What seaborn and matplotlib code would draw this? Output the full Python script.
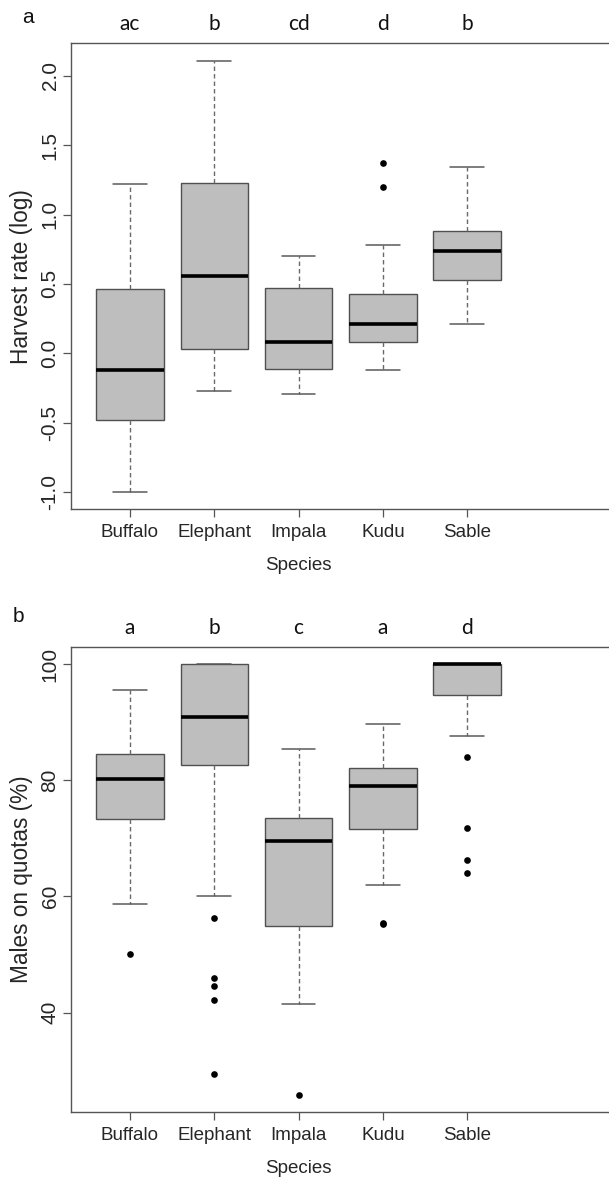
import numpy as np
import pandas as pd
import matplotlib
matplotlib.use("Agg")
import matplotlib.pyplot as plt
from matplotlib.ticker import FixedLocator, FormatStrFormatter
import seaborn as sns

sns.set_style("white")
plt.rcParams['font.family'] = ['Liberation Sans', 'DejaVu Sans']

species = ["Buffalo", "Elephant", "Impala", "Kudu", "Sable"]

# Panel a: harvest rate (log) five-number summaries
harvest_lo = [-1.00, -0.27, -0.29, -0.12, 0.21]
harvest_q1 = [-0.48, 0.03, -0.11, 0.08, 0.53]
harvest_med = [-0.12, 0.56, 0.08, 0.21, 0.74]
harvest_q3 = [0.46, 1.23, 0.47, 0.43, 0.88]
harvest_hi = [1.22, 2.11, 0.70, 0.78, 1.34]
harvest_out_species = ["Kudu", "Kudu"]
harvest_out_values = [1.37, 1.20]
harvest_letters = ["ac", "b", "cd", "d", "b"]
harvest_ticks = [-1.0, -0.5, 0.0, 0.5, 1.0, 1.5, 2.0]

# Panel b: males on quotas (%)
males_lo = [58.6, 60.1, 41.5, 61.9, 87.6]
males_q1 = [73.3, 82.6, 54.9, 71.6, 94.7]
males_med = [80.2, 90.9, 69.5, 79.0, 100.0]
males_q3 = [84.5, 100.0, 73.4, 82.1, 100.0]
males_hi = [95.5, 100.0, 85.4, 89.6, 100.0]
males_out_species = ["Buffalo", "Elephant", "Elephant", "Elephant", "Elephant", "Elephant",
                     "Impala", "Kudu", "Kudu", "Sable", "Sable", "Sable", "Sable"]
males_out_values = [50.0, 56.2, 45.9, 44.5, 42.2, 29.5,
                    25.8, 55.2, 55.4, 83.9, 71.8, 66.3, 64.1]
males_letters = ["a", "b", "c", "a", "d"]
males_ticks = [40, 60, 80, 100]


def summary_frame(lo, q1, med, q3, hi):
    rows = []
    for sp, a, b, c, d, e in zip(species, lo, q1, med, q3, hi):
        for v in (a, b, c, d, e):
            rows.append({"Species": sp, "value": v})
    return pd.DataFrame(rows)


W, H = 609, 1179
fig = plt.figure(figsize=(W / 100, H / 100), dpi=100)

EDGE = "#505050"
SPINE = "#555555"
FILL = "#bebebe"
px_per_cat = 84.3
cat0_px = 130.0
left_px = 70.7
xlim = (-(cat0_px - left_px) / px_per_cat, (W + 12 - cat0_px) / px_per_cat)
ax_w_px = (xlim[1] - xlim[0]) * px_per_cat


def make_panel(top_px, bottom_px, lo, q1, med, q3, hi, out_sp, out_v,
               letters, ticks, fmt, ylabel, panel_letter, letter_xy):
    ax = fig.add_axes([left_px / W, (H - bottom_px) / H, ax_w_px / W,
                       (bottom_px - top_px) / H])
    df = summary_frame(lo, q1, med, q3, hi)
    sns.boxplot(data=df, x="Species", y="value", order=species, ax=ax,
                color=FILL, linecolor=EDGE, linewidth=1.0, width=0.8,
                whis=(0, 100), showfliers=False, saturation=1,
                boxprops={"facecolor": FILL, "edgecolor": EDGE},
                medianprops={"color": "black", "linewidth": 2.6},
                whiskerprops={"color": "#6a6a6a", "linestyle": (0, (3.2, 2.2)), "linewidth": 1.0},
                capprops={"color": "#5a5a5a", "linewidth": 1.1})
    odf = pd.DataFrame({"Species": out_sp, "value": out_v})
    sns.stripplot(data=odf, x="Species", y="value", order=species, ax=ax,
                  jitter=False, color="black", size=4.8, linewidth=0, zorder=5)

    allv = list(lo) + list(hi) + list(out_v)
    vmin, vmax = min(allv), max(allv)
    span = vmax - vmin
    ax.set_ylim(vmin - 0.04 * span, vmax + 0.04 * span)
    ax.set_xlim(*xlim)

    for s in ["top", "left", "bottom"]:
        ax.spines[s].set_visible(True)
        ax.spines[s].set_color(SPINE)
        ax.spines[s].set_linewidth(1.0)
    ax.spines["right"].set_visible(False)

    ax.yaxis.set_major_locator(FixedLocator(ticks))
    ax.yaxis.set_major_formatter(FormatStrFormatter(fmt))
    ax.tick_params(axis="both", direction="out", length=5.5, width=0.9, color=SPINE,
                   left=True, bottom=True)
    ax.tick_params(axis="x", labelsize=13.5, pad=5)
    ax.tick_params(axis="y", labelsize=15, pad=2.5)
    for t in ax.get_yticklabels():
        t.set_rotation(90)
        t.set_va("center")

    ax.set_xlabel("Species", fontsize=13.5, va="center")
    ax_h_px = bottom_px - top_px
    ax.xaxis.set_label_coords((298.7 - left_px) / ax_w_px, -56.4 / ax_h_px)
    ax.set_ylabel(ylabel, fontsize=16.3, va="center")
    ax.yaxis.set_label_coords((21.5 - left_px) / ax_w_px, 0.5)

    trans = ax.get_xaxis_transform()
    for i, lab in enumerate(letters):
        ax.text(i, 1 + 13.0 / ax_h_px, lab, transform=trans, ha="center",
                va="baseline", fontsize=15, family=["Lato", "DejaVu Sans"],
                color="#111111")

    fig.text(letter_xy[0] / W, (H - letter_xy[1]) / H, panel_letter,
             ha="center", va="baseline", fontsize=15, color="#111111")
    ax.grid(False)
    return ax


make_panel(43.3, 509.3, harvest_lo, harvest_q1, harvest_med, harvest_q3, harvest_hi,
           harvest_out_species, harvest_out_values, harvest_letters, harvest_ticks,
           "%.1f", "Harvest rate (log)", "a", (27.5, 23.3))
make_panel(646.7, 1112.3, males_lo, males_q1, males_med, males_q3, males_hi,
           males_out_species, males_out_values, males_letters, males_ticks,
           "%d", "Males on quotas (%)", "b", (18.0, 621.7))

fig.savefig("out.png", dpi=100, facecolor="white")
